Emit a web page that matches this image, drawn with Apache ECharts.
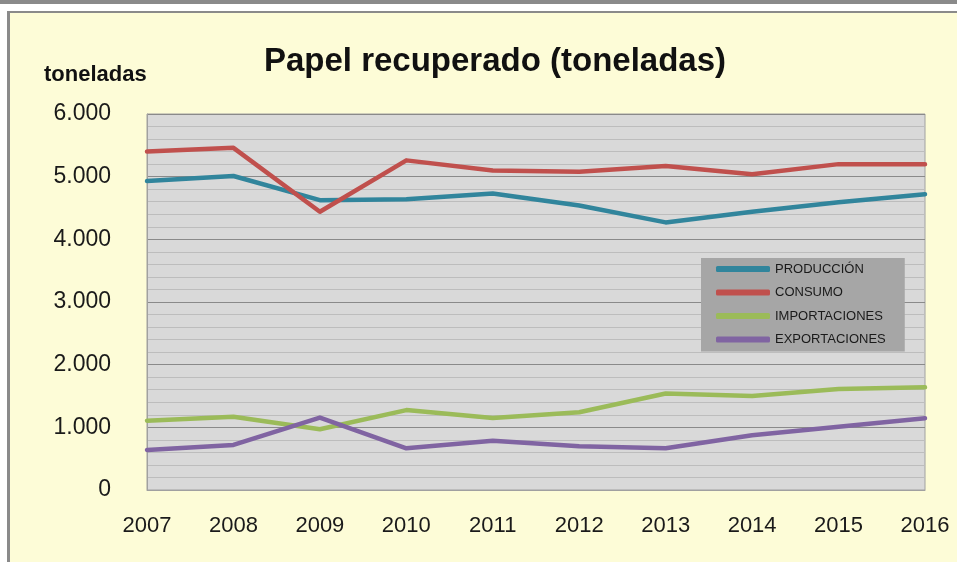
<!DOCTYPE html>
<html>
<head>
<meta charset="utf-8">
<script src="https://cdn.jsdelivr.net/npm/echarts@6/dist/echarts.min.js"></script>
<style>
html, body { margin: 0; padding: 0; background: #fff; }
.topBar { position: absolute; left: 0; top: 0; width: 957px; height: 4px; background: #8a8a8a; }
.frame {
    position: absolute; left: 7px; top: 11px; width: 950px; height: 551px;
    box-sizing: border-box; background: #fdfcd7;
    border-top: 2px solid #8a8a8a; border-left: 3px solid #8a8a8a;
}
#chart { position: absolute; left: 0; top: 0; width: 957px; height: 562px; }
</style>
</head>
<body>
<div class="topBar"></div>
<div class="frame"></div>
<div id="chart"></div>
<script>
// datos
var years = ['2007', '2008', '2009', '2010', '2011', '2012', '2013', '2014', '2015', '2016'];
var produccion = [4930, 5010, 4625, 4640, 4730, 4540, 4270, 4440, 4590, 4720];
var consumo = [5400, 5460, 4440, 5260, 5100, 5080, 5170, 5040, 5200, 5200];
var importaciones = [1105, 1170, 970, 1275, 1150, 1240, 1540, 1500, 1610, 1640];
var exportaciones = [640, 720, 1155, 665, 785, 700, 665, 875, 1010, 1145];

var seriesNames = ['PRODUCCIÓN', 'CONSUMO', 'IMPORTACIONES', 'EXPORTACIONES'];
var seriesData = [produccion, consumo, importaciones, exportaciones];
var colors = ['#31859c', '#c0504d', '#9bbb59', '#8064a2'];

// 6000 -> "6.000"
function miles(v) {
    return String(v).replace(/\B(?=(\d{3})+$)/g, '.');
}

var myChart = echarts.init(document.getElementById('chart'));

var series = seriesNames.map(function (name, i) {
    return {
        name: name,
        type: 'line',
        data: seriesData[i],
        showSymbol: false,
        symbol: 'none',
        lineStyle: { width: 4.5, color: colors[i], cap: 'round', join: 'round' },
        itemStyle: { color: colors[i] }
    };
});

myChart.setOption({
    backgroundColor: 'transparent',
    animation: false,
    textStyle: { fontFamily: 'Liberation Sans' },
    title: [
        {
            text: 'Papel recuperado (toneladas)',
            left: 490, top: 40, textAlign: 'center',
            textStyle: { fontSize: 33, fontWeight: 'bold', color: '#111' }
        },
        {
            text: 'toneladas',
            left: 39, top: 59,
            textStyle: { fontSize: 22, fontWeight: 'bold', color: '#111' }
        }
    ],
    legend: {
        orient: 'vertical',
        left: 701, top: 258,
        backgroundColor: '#a6a6a6',
        padding: [3, 19, 4, 15],
        itemWidth: 54, itemHeight: 6, itemGap: 7.5,
        icon: 'roundRect',
        textStyle: { fontSize: 13, color: '#1a1a1a', lineHeight: 16 },
        data: seriesNames
    },
    grid: {
        left: 147, top: 114, right: 32, bottom: 72,
        show: true, backgroundColor: '#d9d9d9',
        borderColor: '#a0a0a0', borderWidth: 1
    },
    xAxis: {
        type: 'category',
        boundaryGap: false,
        data: years,
        axisLine: { lineStyle: { color: '#a0a0a0' } },
        axisTick: { show: false },
        axisLabel: { fontSize: 22, color: '#1a1a1a', margin: 25, showMaxLabel: true }
    },
    yAxis: {
        type: 'value',
        min: 0, max: 6000, interval: 1000,
        axisLine: { show: true, lineStyle: { color: '#a0a0a0' } },
        axisLabel: { fontSize: 23, color: '#1a1a1a', margin: 36, formatter: miles },
        splitLine: { lineStyle: { color: '#8a8a8a', width: 1 } },
        minorTick: { show: false, splitNumber: 5 },
        minorSplitLine: { show: true, lineStyle: { color: '#bdbdbd', width: 1 } }
    },
    series: series
});
</script>
</body>
</html>
